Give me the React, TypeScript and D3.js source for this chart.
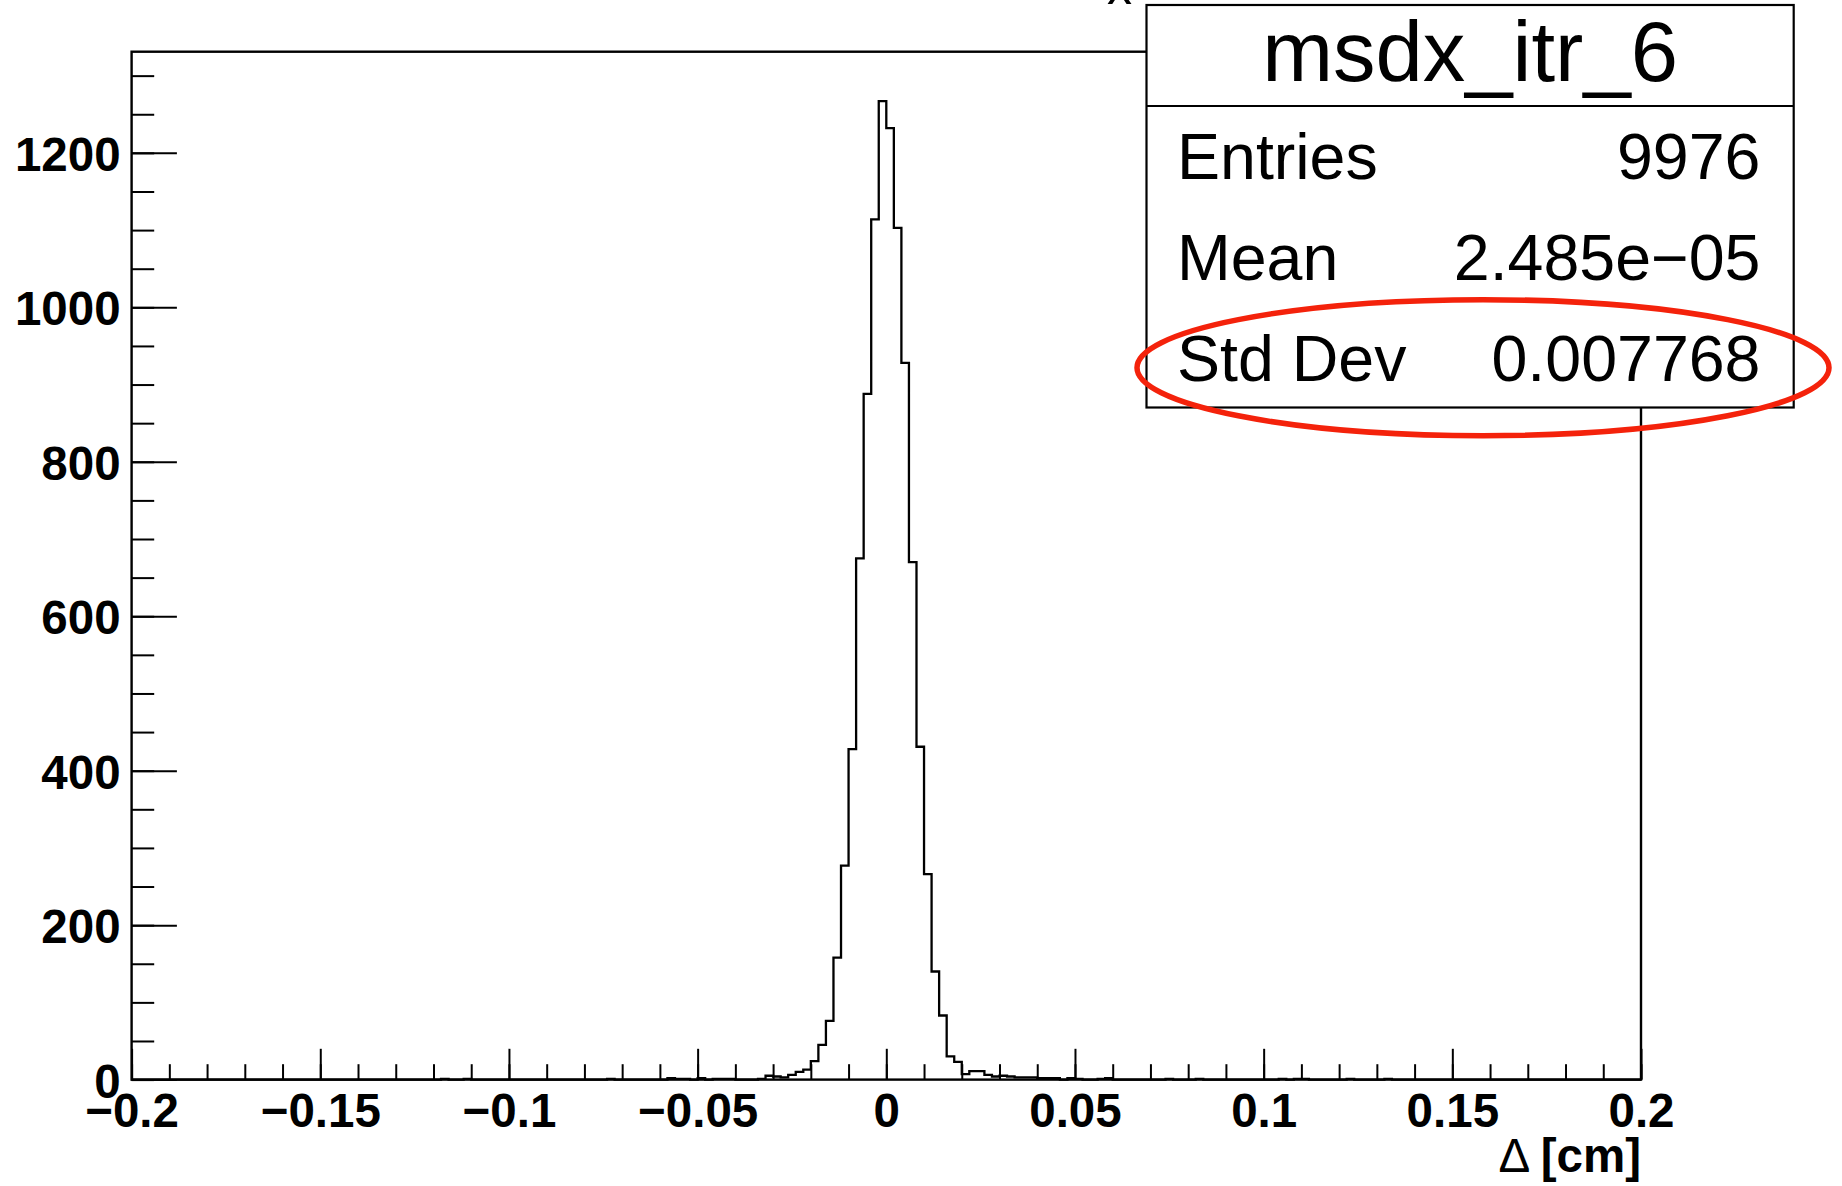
import React, { useEffect, useRef } from "react";
import * as d3 from "d3";

// histogram msdx_itr_6 : 200 bins on [-0.2, 0.2]
const xMin = -0.2;
const xMax = 0.2;
const counts: number[] = [
  0, 0, 0, 0, 0, 0, 0, 0, 0, 0,
  0, 0, 0, 0, 0, 0, 0, 0, 0, 0,
  0, 0, 0, 0, 0, 0, 0, 0, 0, 0,
  0, 0, 0, 0, 0, 0, 0, 0, 0, 0,
  0, 1, 0, 0, 1, 0, 0, 0, 0, 0,
  0, 0, 0, 0, 0, 0, 0, 0, 0, 0,
  0, 0, 0, 1, 0, 0, 0, 0, 0, 0,
  0, 2, 1, 1, 0, 2, 0, 1, 1, 1,
  0, 0, 0, 1, 5, 4, 3, 6, 10, 13,
  24, 45, 76, 158, 277, 428, 675, 888, 1114, 1267,
  1232, 1103, 928, 670, 431, 266, 140, 83, 30, 23,
  7, 11, 11, 6, 4, 5, 4, 3, 3, 3,
  2, 2, 2, 0, 2, 1, 0, 0, 1, 2,
  0, 0, 0, 0, 0, 0, 0, 1, 0, 0,
  0, 1, 0, 0, 0, 0, 0, 0, 0, 0,
  0, 0, 1, 0, 1, 1, 0, 0, 0, 0,
  0, 1, 0, 0, 0, 0, 1, 0, 0, 0,
  0, 0, 0, 0, 0, 0, 0, 0, 0, 0,
  0, 0, 0, 0, 0, 0, 0, 0, 0, 0,
  0, 0, 0, 0, 0, 0, 0, 0, 0, 0,
];
const yMax = 1331;

const xTickValues = [-0.2, -0.15, -0.1, -0.05, 0, 0.05, 0.1, 0.15, 0.2];
const xTickLabels = ["\u22120.2", "\u22120.15", "\u22120.1", "\u22120.05", "0", "0.05", "0.1", "0.15", "0.2"];
const yTickValues = [0, 200, 400, 600, 800, 1000, 1200];
const yTickLabels = ["0", "200", "400", "600", "800", "1000", "1200"];

const histName = "msdx_itr_6";
const statNames = ["Entries", "Mean", "Std Dev"];
const statValues = ["9976", "2.485e\u221205", "0.007768"];
const xTitle = "[cm]";
const titleSub = "x";

const FONT = "'Liberation Sans', Arial, Helvetica, sans-serif";

export default function App() {
  const ref = useRef<SVGSVGElement>(null);

  useEffect(() => {
    const width = 1842;
    const height = 1186;
    const frame = { left: 131.6, right: 1641, top: 51.7, bottom: 1079.6 };

    const svg = d3.select(ref.current);
    svg.selectAll("*").remove();
    svg.attr("width", width).attr("height", height);

    const x = d3.scaleLinear().domain([xMin, xMax]).range([frame.left, frame.right]);
    const y = d3.scaleLinear().domain([0, yMax]).range([frame.bottom, frame.top]);

    // partially cut title
    svg.append("text")
      .attr("x", 1107)
      .attr("y", 4)
      .attr("font-family", FONT)
      .attr("font-size", 50)
      .text(titleSub);

    // histogram outline
    const binW = (xMax - xMin) / counts.length;
    const pts: [number, number][] = [[xMin, 0]];
    counts.forEach((c, i) => {
      const x0 = xMin + i * binW;
      pts.push([x0, c]);
      pts.push([x0 + binW, c]);
    });
    pts.push([xMax, 0]);
    const line = d3.line<[number, number]>().x((d) => x(d[0])).y((d) => y(d[1]));
    svg.append("path")
      .attr("d", line(pts))
      .attr("fill", "none")
      .attr("stroke", "#000")
      .attr("stroke-width", 2.3);

    // axes (ticks point inwards, ROOT style)
    const xMajor = d3.axisBottom(x)
      .tickValues(xTickValues)
      .tickSize(-30.8)
      .tickPadding(14)
      .tickFormat((_, i) => xTickLabels[i]);
    const xMinor = d3.axisBottom(x)
      .tickValues(d3.range(-20, 21).map((k) => k / 100))
      .tickSize(-15.4)
      .tickFormat(() => "");
    const yMajor = d3.axisLeft(y)
      .tickValues(yTickValues)
      .tickSize(-45.3)
      .tickPadding(11)
      .tickFormat((_, i) => yTickLabels[i]);
    const yMinor = d3.axisLeft(y)
      .tickValues(d3.range(0, 1301, 50))
      .tickSize(-22.6)
      .tickFormat(() => "");

    const gx1 = svg.append("g").attr("transform", `translate(0,${frame.bottom})`).call(xMinor);
    const gx2 = svg.append("g").attr("transform", `translate(0,${frame.bottom})`).call(xMajor);
    const gy1 = svg.append("g").attr("transform", `translate(${frame.left},0)`).call(yMinor);
    const gy2 = svg.append("g").attr("transform", `translate(${frame.left},0)`).call(yMajor);
    [gx1, gx2, gy1, gy2].forEach((g) => {
      g.select(".domain").remove();
      g.selectAll("line").attr("stroke", "#000").attr("stroke-width", 2);
      g.selectAll("text")
        .attr("font-family", FONT)
        .attr("font-size", 47.5)
        .attr("font-weight", "bold")
        .attr("fill", "#000");
    });
    gy2.selectAll("text").attr("dy", "0.37em");

    // frame
    svg.append("rect")
      .attr("x", frame.left)
      .attr("y", frame.top)
      .attr("width", frame.right - frame.left)
      .attr("height", frame.bottom - frame.top)
      .attr("fill", "none")
      .attr("stroke", "#000")
      .attr("stroke-width", 2.4);

    // x axis title
    const xt = svg.append("text")
      .attr("x", frame.right)
      .attr("y", 1172)
      .attr("text-anchor", "end")
      .attr("font-family", FONT)
      .attr("font-size", 47.5)
      .attr("fill", "#000");
    xt.append("tspan").text("\u0394 ");
    xt.append("tspan").attr("font-weight", "bold").text(xTitle);

    // stats box
    const box = { left: 1146.5, right: 1793.7, top: 5, bottom: 407.5, divider: 106 };
    svg.append("rect")
      .attr("x", box.left)
      .attr("y", box.top)
      .attr("width", box.right - box.left)
      .attr("height", box.bottom - box.top)
      .attr("fill", "#fff")
      .attr("stroke", "#000")
      .attr("stroke-width", 2.2);
    svg.append("line")
      .attr("x1", box.left)
      .attr("x2", box.right)
      .attr("y1", box.divider)
      .attr("y2", box.divider)
      .attr("stroke", "#000")
      .attr("stroke-width", 2.2);
    svg.append("text")
      .attr("x", (box.left + box.right) / 2)
      .attr("y", 81)
      .attr("text-anchor", "middle")
      .attr("font-family", FONT)
      .attr("font-size", 85)
      .text(histName);

    const rowY = d3.scalePoint<string>().domain(statNames).range([178.5, 380.5]);
    statNames.forEach((name, i) => {
      svg.append("text")
        .attr("x", 1177)
        .attr("y", rowY(name)!)
        .attr("font-family", FONT)
        .attr("font-size", 64.5)
        .text(name);
      svg.append("text")
        .attr("x", 1760.5)
        .attr("y", rowY(name)!)
        .attr("text-anchor", "end")
        .attr("font-family", FONT)
        .attr("font-size", 64.5)
        .text(statValues[i]);
    });

    // red highlight round the Std Dev row
    svg.append("ellipse")
      .attr("cx", 1483)
      .attr("cy", 367.7)
      .attr("rx", 346)
      .attr("ry", 68)
      .attr("fill", "none")
      .attr("stroke", "#f4220b")
      .attr("stroke-width", 5.5);
  }, []);

  return (
    <svg
      ref={ref}
      style={{ position: "absolute", left: 0, top: 0, background: "#fff" }}
    />
  );
}
